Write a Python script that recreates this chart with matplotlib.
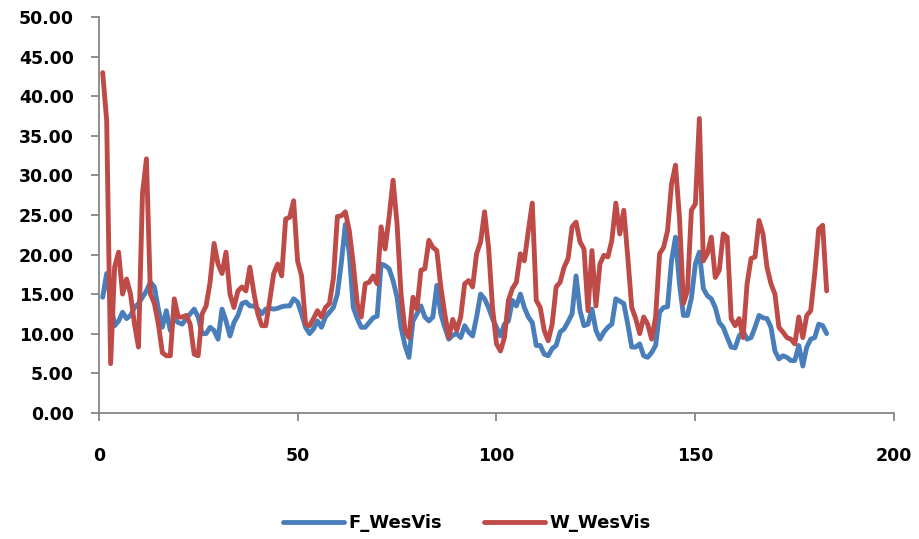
import matplotlib
matplotlib.use('Agg')
import matplotlib.pyplot as plt

f_wesvis = [14.6, 17.6, 14.0, 11.0, 11.6, 12.7, 11.9, 12.3, 13.3, 13.8,
            14.6, 15.4, 16.5, 15.9, 13.1, 10.8, 12.9, 10.4, 11.9, 11.4,
            11.2, 11.9, 12.5, 13.1, 12.1, 10.0, 10.0, 10.8, 10.4, 9.3,
            13.1, 11.6, 9.7, 11.4, 12.3, 13.8, 14.0, 13.5, 13.5, 13.1,
            12.5, 13.1, 13.2, 13.1, 13.2, 13.4, 13.5, 13.5, 14.4, 14.0,
            12.5, 10.8, 10.0, 10.6, 11.6, 10.8, 12.1, 12.7, 13.3, 15.0,
            19.0, 23.8, 20.1, 13.3, 11.9, 10.8, 10.8, 11.4, 12.0, 12.2,
            18.8, 18.6, 18.2, 16.7, 14.6, 10.8, 8.5, 7.0, 11.6, 12.5,
            13.5, 12.1, 11.6, 12.1, 16.1, 12.5, 10.8, 9.3, 9.8, 10.0,
            9.5, 11.0, 10.2, 9.7, 12.1, 15.0, 14.4, 13.3, 11.9, 10.8,
            9.7, 11.2, 11.6, 14.2, 13.5, 15.0, 13.3, 12.1, 11.4, 8.5,
            8.5, 7.4, 7.2, 8.1, 8.5, 10.2, 10.6, 11.5, 12.5, 17.3,
            12.9, 11.0, 11.2, 13.1, 10.4, 9.3, 10.2, 10.8, 11.2, 14.4,
            14.1, 13.8, 11.2, 8.3, 8.3, 8.7, 7.2, 7.0, 7.6, 8.5,
            12.7, 13.3, 13.4, 19.2, 22.2, 16.3, 12.3, 12.3, 14.5, 18.8,
            20.3, 15.7, 14.8, 14.4, 13.3, 11.4, 10.8, 9.5, 8.3, 8.2,
            9.7, 10.3, 9.3, 9.5, 10.8, 12.3, 12.0, 11.9, 10.8, 7.8,
            6.8, 7.2, 7.0, 6.6, 6.6, 8.5, 5.9, 8.3, 9.3, 9.5,
            11.2, 11.0, 10.0]

w_wesvis = [43.0, 37.0, 6.2, 18.4, 20.3, 15.0, 16.9, 15.0, 11.2, 8.3,
            27.7, 32.1, 15.0, 13.8, 11.2, 7.6, 7.2, 7.2, 14.4, 12.1,
            12.1, 12.3, 11.2, 7.4, 7.2, 12.5, 13.5, 16.5, 21.4, 18.8,
            17.6, 20.3, 15.0, 13.3, 15.4, 15.9, 15.4, 18.4, 15.2, 12.5,
            11.0, 11.0, 14.2, 17.6, 18.8, 17.3, 24.5, 24.7, 26.8, 19.2,
            17.3, 11.2, 11.0, 11.9, 12.9, 12.1, 13.3, 13.8, 17.0, 24.8,
            24.9, 25.4, 23.0, 18.8, 13.8, 12.1, 16.3, 16.5, 17.3, 16.3,
            23.5, 20.7, 24.7, 29.4, 23.9, 15.0, 10.4, 9.5, 14.6, 13.1,
            18.0, 18.2, 21.8, 20.9, 20.5, 15.9, 12.5, 9.5, 11.8, 10.4,
            12.1, 16.3, 16.7, 15.9, 20.1, 21.6, 25.4, 20.9, 13.3, 8.7,
            7.8, 9.5, 14.2, 15.7, 16.5, 20.1, 19.2, 23.0, 26.5, 14.2,
            13.3, 10.4, 9.1, 11.2, 15.9, 16.5, 18.4, 19.5, 23.5, 24.1,
            21.6, 20.7, 12.9, 20.5, 13.5, 18.8, 19.9, 19.7, 21.8, 26.5,
            22.6, 25.6, 19.7, 13.3, 11.9, 10.0, 12.1, 11.2, 9.3, 12.1,
            20.1, 20.9, 23.0, 28.9, 31.3, 24.7, 13.8, 15.4, 25.6, 26.4,
            37.2, 19.2, 20.1, 22.2, 17.1, 18.0, 22.6, 22.2, 11.9, 11.0,
            11.9, 9.5, 16.3, 19.5, 19.7, 24.3, 22.6, 18.4, 16.3, 15.0,
            10.8, 10.2, 9.5, 9.3, 8.7, 12.1, 9.5, 12.3, 12.9, 17.6,
            23.2, 23.7, 15.4]

days = list(range(1, len(f_wesvis) + 1))

plt.rcParams['font.family'] = ['DejaVu Sans']
plt.rcParams['font.weight'] = 'bold'

fig = plt.figure(figsize=(9.19, 5.39), dpi=100)
ax = fig.add_axes([0.1074, 0.2343, 0.8657, 0.7337])

ax.plot(days, f_wesvis, color='#4A7EBB', lw=3.5, solid_joinstyle='round',
        solid_capstyle='round', label='F_WesVis')
ax.plot(days, w_wesvis, color='#BE4B48', lw=3.5, solid_joinstyle='round',
        solid_capstyle='round', label='W_WesVis')

ax.set_xlim(0, 200)
ax.set_ylim(0, 50)
ax.set_xticks(range(0, 201, 50))
ax.set_yticks(range(0, 51, 5))
ax.set_yticklabels(['%.2f' % v for v in range(0, 51, 5)])

for s in ['top', 'right']:
    ax.spines[s].set_visible(False)
for s in ['left', 'bottom']:
    ax.spines[s].set_color('#868686')
    ax.spines[s].set_linewidth(1.3)

ax.tick_params(axis='y', direction='out', length=6, width=1.3, color='#868686',
               pad=12, labelsize=12.5)
ax.tick_params(axis='x', direction='out', length=6, width=1.3, color='#868686',
               pad=19, labelsize=12.5)
for lab in ax.get_xticklabels() + ax.get_yticklabels():
    lab.set_fontweight('bold')

leg = fig.legend(loc='center', bbox_to_anchor=(0.508, 0.029), ncol=2, frameon=False,
                 fontsize=13, handlelength=3.4, columnspacing=2.3, handletextpad=0.25)
for t in leg.get_texts():
    t.set_fontweight('bold')

plt.savefig('out.png', dpi=100)
